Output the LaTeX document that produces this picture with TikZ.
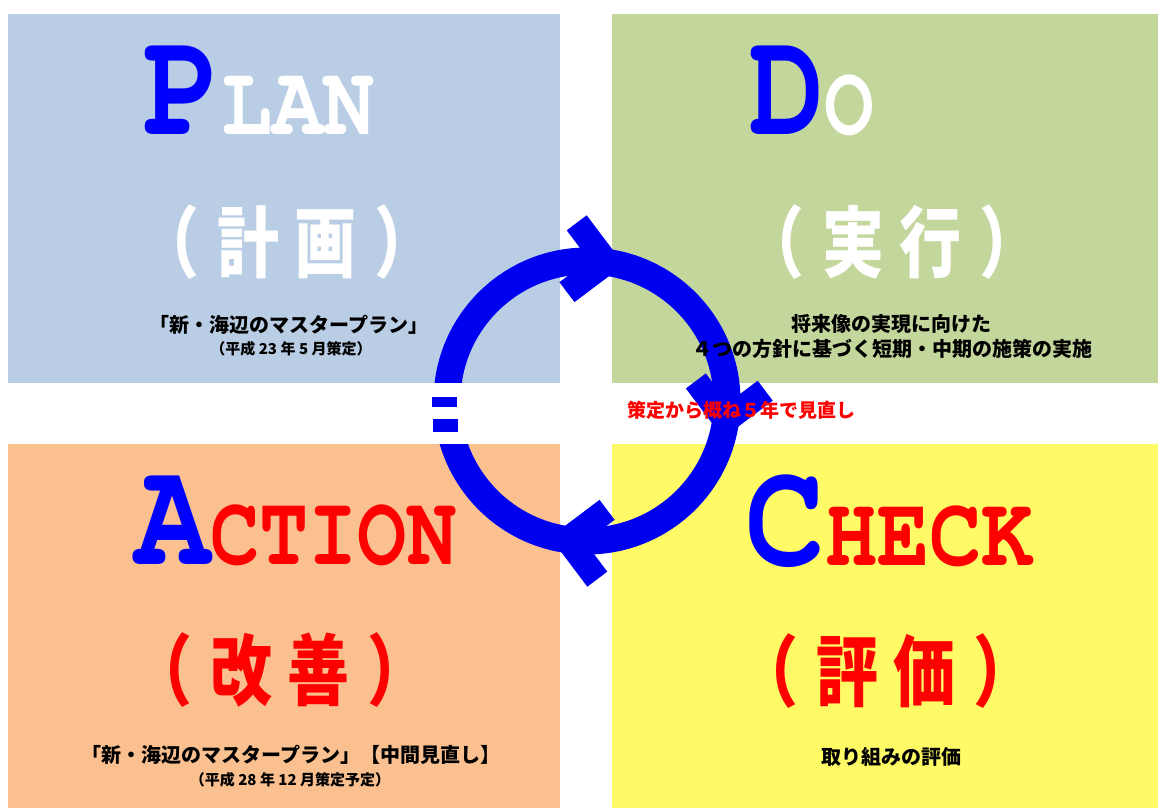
\documentclass[tikz,border=0pt]{standalone}
\usepackage{fontspec}
\usepackage{graphicx}
\usetikzlibrary{positioning}
\newfontfamily\jpfont{Noto Sans CJK JP}
\newfontfamily\ttlfont{texgyrecursor}[Extension=.otf, UprightFont=*-regular, BoldFont=*-bold]
\definecolor{planblue}{RGB}{185,205,229}
\definecolor{dogreen}{RGB}{195,214,155}
\definecolor{actorange}{RGB}{250,192,143}
\definecolor{chkyellow}{RGB}{255,251,102}
\definecolor{cycblue}{RGB}{0,0,240}
\definecolor{capblue}{RGB}{0,0,255}
\definecolor{txtred}{RGB}{255,0,0}
\newcommand{\firstletter}[1]{{\fontsize{152}{152}\selectfont\color{capblue}#1}}
\newcommand{\restletters}[2]{{\fontsize{100}{100}\selectfont\color{#1}#2}}
\newcommand{\paren}[2]{\scalebox{1}[1.25]{（\hspace{18pt}#1\hspace{15pt}#2\hspace{18pt}）}}
\tikzset{
  ttl/.style={inner sep=0pt, anchor=base, font=\ttlfont\bfseries},
  kanji/.style={inner sep=0pt, font=\jpfont\bfseries\fontsize{62}{62}\selectfont},
  note/.style={inner sep=0pt, font=\jpfont\bfseries\fontsize{20}{20}\selectfont},
  subnote/.style={inner sep=0pt, font=\jpfont\bfseries\fontsize{15}{15}\selectfont},
  ring/.style={draw=cycblue, line width=27pt},
  chevron/.style={draw=cycblue, line width=25pt, line join=miter}
}

\begin{document}
\begin{tikzpicture}[x=1pt, y=1pt]
    \useasboundingbox (0,0) rectangle (1158,808);
    \fill[white] (0,0) rectangle (1158,808);

    % Four boxes
    \fill[planblue] (8,425) rectangle (560,794);
    \fill[dogreen] (612,425) rectangle (1158,794);
    \fill[actorange] (8,0) rectangle (560,364);
    \fill[chkyellow] (612,0) rectangle (1158,364);

    % Cycle
    \begin{scope}[shift={(587,407)}]
        \coordinate (cyc) at (0,0);
        \draw[ring] (cyc) circle (140);
        \foreach \a in {82,-8,-98}
            \draw[chevron, rotate=\a] (105,35) -- (140,0) -- (175,35);
    \end{scope}
    \fill[white] (425,364) rectangle (470,425);
    \fill[cycblue] (432,401) rectangle (457,411);
    \fill[cycblue] (433,376) rectangle (458,389);

    % Plan
    \node[ttl] (plan) at (259,673) {\scalebox{0.85}[1]{\firstletter{P}\restletters{white}{LAN}}};
    \node[kanji, white] (plankj) at (287,566) {\paren{計}{画}};
    \node[note] (plan1) at (289,483) {「新・海辺のマスタープラン」};
    \node[subnote] (plan2) at (291,459) {（平成 23 年 5 月策定）};

    % Do
    \node[ttl] (do) at (812,673) {\scalebox{0.83}[1]{\firstletter{D}\restletters{white}{O}}};
    \node[kanji, white] (dokj) at (892,566) {\paren{実}{行}};
    \node[note] (do1) at (891,484) {将来像の実現に向けた};
    \node[note] (do2) at (892,459) {４つの方針に基づく短期・中期の施策の実施};

    % Action
    \node[ttl] (act) at (296,243) {\scalebox{0.82}[1]{\firstletter{A}\restletters{txtred}{CTION}}};
    \node[kanji, txtred] (actkj) at (280,138) {\paren{改}{善}};
    \node[note] (act1) at (291,53) {「新・海辺のマスタープラン」【中間見直し】};
    \node[subnote] (act2) at (290,28) {（平成 28 年 12 月策定予定）};

    % Check
    \node[ttl] (chk) at (890,242) {\scalebox{0.87}[1]{\firstletter{C}\restletters{txtred}{HECK}}};
    \node[kanji, txtred] (chkkj) at (886,137) {\paren{評}{価}};
    \node[note] (chk1) at (891,51) {取り組みの評価};

    % Review note
    \node[note, txtred, font=\jpfont\bfseries\fontsize{19}{19}\selectfont] (review) at (741,398) {策定から概ね５年で見直し};
\end{tikzpicture}
\end{document}
